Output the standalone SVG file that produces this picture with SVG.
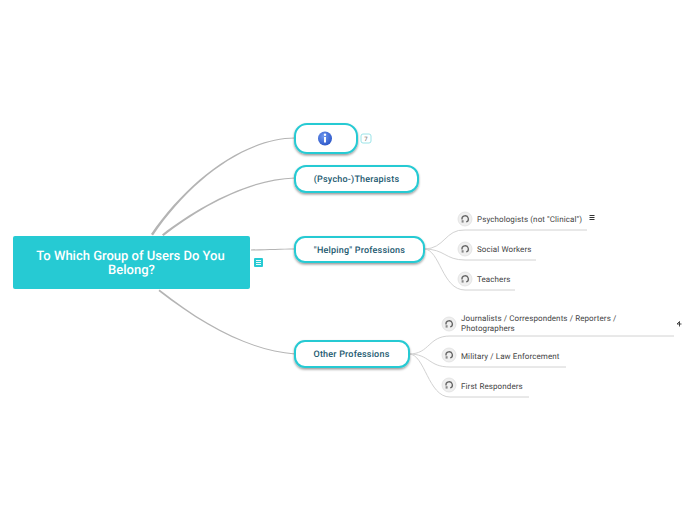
<svg xmlns="http://www.w3.org/2000/svg" width="696" height="520" viewBox="0 0 696 520">
<style>
text{font-family:Roboto,"Liberation Sans",sans-serif;text-rendering:geometricPrecision}
.main{fill:#fff;stroke:#26cad3;stroke-width:2;filter:url(#sh)}
.mt{font-size:9px;font-weight:500;fill:#1d5a70;text-anchor:middle;letter-spacing:.2px}
.st{font-size:8px;fill:#444;letter-spacing:.1px}
.c{fill:#b4b4b4;stroke:none}
.s{fill:none;stroke:#d2d2d2;stroke-width:1}
.ico{fill:#efefef;stroke:#e0e0e0;stroke-width:.8}
.gl{fill:none;stroke:#666;stroke-width:1.300}
</style>
<defs>
<filter id="sh" x="-10%" y="-20%" width="120%" height="150%"><feDropShadow dx="0" dy="1.500" stdDeviation="1" flood-color="#000" flood-opacity=".4"/></filter>
<radialGradient id="blue" cx=".4" cy=".35" r=".7"><stop offset="0" stop-color="#6f97ee"/><stop offset="1" stop-color="#2a55c8"/></radialGradient>
<g id="task"><circle r="7" class="ico"/><path d="M-3 .5A3.200 3.200 0 1 1 1.200 3" class="gl"/><path d="M-3.400 1.200h2v2.400h-2z" fill="#888"/></g>
</defs>
<g id="connectors">
<path class="c" d="M151 234C188.500 179.500 245 137.500 295 137.500V138.500C245.500 138.800 190 180.500 153 235.500Z"/>
<path class="c" d="M162 234.500C199.500 205.500 250 178.500 295 177.500V178.500C250.500 179.600 200.500 206.700 163.500 236Z"/>
<path class="c" d="M251 249.400C268 249.400 280 248.500 295 248.500V249.500C280 249.500 268 250.300 251 250.600Z"/>
<path class="c" d="M159.500 289.500C205 325.500 250 350 295 353.500V354.500C250 351 204.500 326.500 158.500 291Z"/>
<path class="s" d="M424 249C445 249 445 229 465 230H587"/>
<path class="s" d="M424 249C445 249 445 260 465 260H536"/>
<path class="s" d="M424 249C440 249 442 290 465 290H515"/>
<path class="s" d="M409 354C430 354 428 336 450 336H674"/>
<path class="s" d="M409 354C430 354 428 367 450 367H566"/>
<path class="s" d="M409 354C425 354 428 397 450 397H529"/>
</g>
<g id="root">
<rect x="13" y="236" width="237" height="53" rx="2" fill="#26cad3"/>
<text x="130.500" y="259.500" font-size="13" font-weight="500" fill="#fff" text-anchor="middle">To Which Group of Users Do You</text>
<text x="131.500" y="273.500" font-size="13" font-weight="500" fill="#fff" text-anchor="middle">Belong?</text>
<rect x="254" y="258" width="9" height="9" rx="1" fill="#26cad3"/>
<path d="M256 260.500h5M256 262.500h5M256 264.500h5" stroke="#fff" stroke-width=".9"/>
</g>
<g id="node-info">
<rect x="295" y="124" width="62" height="29" rx="12" class="main"/>
<circle cx="325" cy="138.500" r="7" fill="url(#blue)"/>
<rect x="324" y="137" width="2" height="5.500" fill="#fff"/><circle cx="325" cy="134.800" r="1.200" fill="#fff"/>
<rect x="361" y="134" width="10" height="9" rx="2" fill="#fff" stroke="#9be4e8"/>
<text x="366" y="141" font-size="6" fill="#555" text-anchor="middle">7</text>
</g>
<g id="node-therapists">
<rect x="295" y="166" width="123" height="26" rx="11" class="main"/>
<text x="356.500" y="182" class="mt">(Psycho-)Therapists</text>
</g>
<g id="node-helping">
<rect x="295" y="237" width="129" height="25" rx="10" class="main"/>
<text x="359.500" y="252.500" class="mt">"Helping" Professions</text>
</g>
<g id="node-other">
<rect x="295" y="341" width="114" height="26" rx="10" class="main"/>
<text x="351.500" y="356.500" class="mt">Other Professions</text>
</g>
<g id="node-psychologists">
<use href="#task" x="465" y="219"/>
<text x="477" y="222" class="st">Psychologists (not "Clinical")</text>
<path d="M589.500 215.500h5M589.500 217.500h5M589.500 219.500h5" stroke="#333" stroke-width="1"/>
</g>
<g id="node-social"><use href="#task" x="465" y="249"/><text x="477" y="252" class="st">Social Workers</text></g>
<g id="node-teachers"><use href="#task" x="465" y="279"/><text x="477" y="282" class="st">Teachers</text></g>
<g id="node-journalists">
<use href="#task" x="449" y="324"/>
<text x="461" y="321" class="st">Journalists / Correspondents / Reporters /</text>
<text x="461" y="331" class="st">Photographers</text>
<path d="M677 324l2.500-2.500v5M677 324h4.500" fill="none" stroke="#333" stroke-width=".9"/>
</g>
<g id="node-military"><use href="#task" x="449" y="355"/><text x="461" y="359" class="st">Military / Law Enforcement</text></g>
<g id="node-first"><use href="#task" x="449" y="385"/><text x="461" y="389" class="st">First Responders</text></g>
</svg>
